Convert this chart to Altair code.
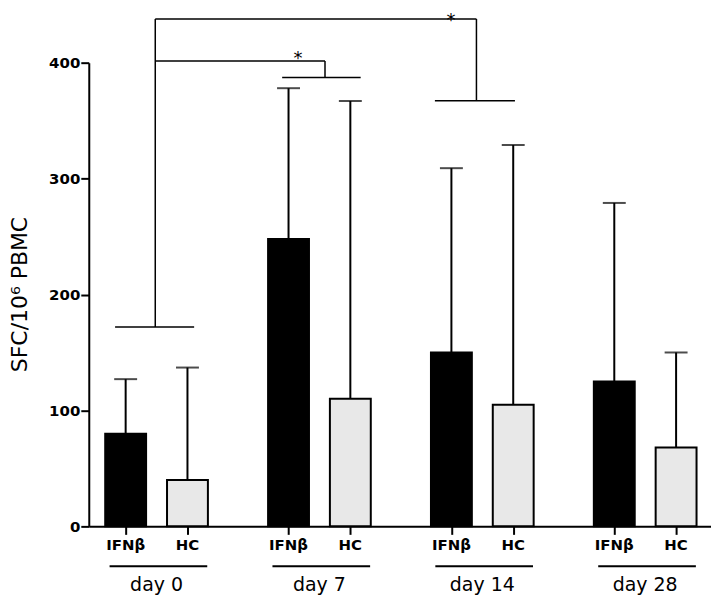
import altair as alt
import pandas as pd

# ---- data ----
days = ["day 0", "day 7", "day 14", "day 28"]
series = ["IFNβ", "HC"]
ifn_mean = [80, 248, 150, 125]
ifn_upper = [127, 378, 309, 279]
hc_mean = [40, 110, 105, 68]
hc_upper = [137, 367, 329, 150]

# significance bracket segments (x in bar slots, y in SFC/10^6 PBMC)
br_x1 = [-0.171, 0.479, 0.479, 5.675, 5.003, 0.479, 3.225, 2.532]
br_x2 = [1.108, 0.479, 5.675, 5.675, 6.298, 3.225, 3.225, 3.802]
br_y1 = [172, 172, 437.7, 437.7, 367.2, 401.5, 401.5, 387.2]
br_y2 = [172, 437.7, 437.7, 367.2, 367.2, 401.5, 387.2, 387.2]
star_x = [2.786, 5.262]
star_y = [398.5, 432.0]

# ---- layout ----
GROUP_STEP = 2.635
W, H = 624, 465
means = {"IFNβ": ifn_mean, "HC": hc_mean}
uppers = {"IFNβ": ifn_upper, "HC": hc_upper}
rows = []
for gi, d in enumerate(days):
    for si, s in enumerate(series):
        rows.append(dict(day=d, series=s, pos=gi * GROUP_STEP + si,
                         mean=means[s][gi], upper=uppers[s][gi]))
df = pd.DataFrame(rows)
gdf = pd.DataFrame({"day": days,
                    "center": [gi * GROUP_STEP + 0.5 for gi in range(len(days))]})
gdf["lo"] = gdf["center"] - 0.76
gdf["hi"] = gdf["center"] + 0.82
bdf = pd.DataFrame({"x1": br_x1, "x2": br_x2, "y1": br_y1, "y2": br_y2})
sdf = pd.DataFrame({"x": star_x, "y": star_y, "t": ["*", "*"]})

xs = alt.Scale(domain=[-0.516, 9.389], nice=False, zero=False)
ys = alt.Scale(domain=[0, 400], nice=False)

x_axis = alt.Axis(values=df["pos"].tolist(), labels=False, title=None,
                  domainWidth=2, domainColor="black", tickWidth=2, tickSize=8,
                  tickColor="black", grid=False)
y_axis = alt.Axis(values=[0, 100, 200, 300, 400], title="SFC/10⁶ PBMC",
                  labelFont="DejaVu Sans", labelFontWeight="bold", labelFontSize=15,
                  labelColor="black", labelPadding=1, tickSize=8, tickWidth=2,
                  tickColor="black", domainWidth=2, domainColor="black", grid=False,
                  titleFont="DejaVu Sans", titleFontSize=22, titleFontWeight="normal",
                  titleColor="black", titleAngle=270, titleAlign="center",
                  titleBaseline="alphabetic", titleX=-62, titleY=232)


def X(f):
    return alt.X(f, scale=xs, axis=x_axis)


def Y(f):
    return alt.Y(f, scale=ys, axis=y_axis)


bars = alt.Chart(df).mark_bar(size=41, stroke="black", strokeWidth=2).encode(
    x=X("pos:Q"),
    y=Y("mean:Q"),
    color=alt.Color("series:N", scale=alt.Scale(domain=series, range=["#000000", "#e8e8e8"]),
                    legend=None),
)
err = alt.Chart(df).mark_rule(color="black", strokeWidth=2).encode(
    x=X("pos:Q"), y=Y("mean:Q"), y2="upper:Q",
)
caps = alt.Chart(df).mark_tick(color="black", size=23, thickness=2, orient="horizontal").encode(
    x=X("pos:Q"), y=Y("upper:Q"),
)
brackets = alt.Chart(bdf).mark_rule(color="black", strokeWidth=1.5).encode(
    x=X("x1:Q"), x2="x2:Q", y=Y("y1:Q"), y2="y2:Q",
)
stars = alt.Chart(sdf).mark_text(font="DejaVu Sans", fontSize=18, color="black",
                                 baseline="alphabetic").encode(
    x=X("x:Q"), y=Y("y:Q"), text="t:N",
)
tick_labels = alt.Chart(df).mark_text(font="DejaVu Sans", fontWeight="bold", fontSize=15,
                                      color="black", baseline="alphabetic").encode(
    x=X("pos:Q"), y=alt.value(H + 24), text="series:N",
)
underlines = alt.Chart(gdf).mark_rule(color="black", strokeWidth=2).encode(
    x=X("lo:Q"), x2="hi:Q", y=alt.value(H + 40),
)
day_labels = alt.Chart(gdf).mark_text(font="DejaVu Sans", fontSize=19, color="black",
                                      baseline="alphabetic").encode(
    x=X("center:Q"), y=alt.value(H + 65), text="day:N",
)

chart = alt.layer(bars, err, caps, brackets, stars, tick_labels, underlines, day_labels).properties(
    width=W, height=H,
    autosize=alt.AutoSizeParams(type="none"),
    padding={"left": 81, "top": 54, "right": 0, "bottom": 72},
    background="white",
).configure_view(stroke=None)

chart.save("out.html", embed_options={"renderer": "svg", "actions": False})
